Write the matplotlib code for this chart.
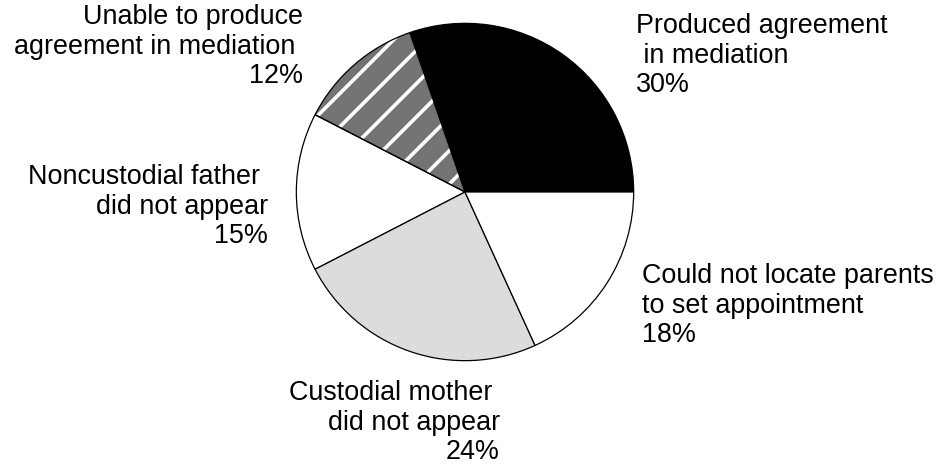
import matplotlib
matplotlib.use("Agg")
import matplotlib.pyplot as plt
from matplotlib.patches import Wedge

plt.rcParams['font.family'] = ['Liberation Sans', 'DejaVu Sans']
plt.rcParams['hatch.linewidth'] = 2.6

# Outcome shares (percent)
outcomes = [
    "Produced agreement\n in mediation",
    "Unable to produce\nagreement in mediation ",
    "Noncustodial father \ndid not appear",
    "Custodial mother \ndid not appear",
    "Could not locate parents\nto set appointment",
]
shares = [30, 12, 15, 24, 18]
fills = ["black", "#737373", "white", "#dcdcdc", "white"]

W, H = 945, 465
fig = plt.figure(figsize=(W / 100, H / 100), dpi=100)

# pie box: centre (465, 192) px, radius 169 px
cx, cy, r = 465, 192, 169
ax = fig.add_axes([(cx - r) / W, 1 - (cy + r) / H, 2 * r / W, 2 * r / H])
wedges, _ = ax.pie(shares, colors=fills, startangle=0, counterclock=True,
                   radius=1, wedgeprops=dict(edgecolor="black", linewidth=0.9))
ax.set_xlim(-1.002, 1.002)
ax.set_ylim(-1.002, 1.002)
ax.set_aspect("equal")
ax.axis("off")

# white diagonal stripes over the gray slice, outline redrawn on top
w = wedges[1]
w.set_edgecolor("white")
w.set_linewidth(0)
w.set_hatch("/")
ax.add_patch(Wedge(w.center, w.r, w.theta1, w.theta2, fill=False,
                   edgecolor="black", linewidth=0.9))

# label anchors: (x, last baseline y, alignment) in pixels
anchors = [
    (636, 92, "left"),
    (303, 83, "right"),
    (268, 243, "right"),
    (500, 459, "right"),
    (642, 342, "left"),
]
for name, pct, (x, y, ha) in zip(outcomes, shares, anchors):
    fig.text(x / W, 1 - y / H, f"{name}\n{pct}%", ha=ha, va="baseline",
             multialignment=ha, fontsize=19.4, linespacing=1.17, color="black")

fig.savefig("out.png", dpi=100)
